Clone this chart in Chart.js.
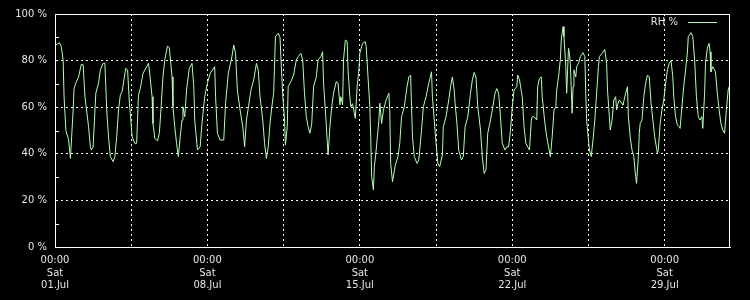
<!DOCTYPE html>
<html>
<head>
<meta charset="utf-8">
<title>RH %</title>
<script src="https://cdn.jsdelivr.net/npm/chart.js@4/dist/chart.umd.min.js"></script>
<style>
  html, body { margin: 0; padding: 0; background: #000; }
  #wrap { width: 750px; height: 300px; position: relative; }
</style>
</head>
<body>
<div id="wrap"><canvas id="rhChart"></canvas></div>
<script>
// hours since 01.Jul 00:00 and relative humidity (%)
const hours = [
  1, 5, 7, 9, 10, 12, 15, 17, 20, 21, 23, 26, 29, 31, 33, 37, 39, 40, 42, 45,
  48, 50, 53, 55, 57, 59, 61, 64, 66, 68, 70, 72, 74, 76, 78, 80, 82, 83, 85, 88,
  90, 92, 94, 97, 101, 103, 104, 107, 108, 110, 113, 115, 117, 119, 121, 124, 126, 129, 130, 132,
  134, 136, 138, 140, 141, 143, 145, 148, 151, 153, 154, 157, 160, 162, 165, 168, 171, 176, 177, 179,
  182, 186, 188, 191, 195, 197, 199, 201, 204, 207, 209, 211, 213, 216, 219, 222, 224, 226, 229, 231,
  233, 235, 237, 239, 241, 243, 246, 248, 250, 251, 253, 254, 256, 257, 260, 263, 266, 268, 271, 273,
  275, 277, 279, 281, 283, 285, 288, 290, 293, 295, 296, 298, 300, 301, 303, 305, 307, 310, 312, 314,
  315, 317, 318, 320, 322, 323, 325, 326, 328, 331, 333, 335, 336, 339, 342, 343, 345, 347, 348, 349,
  351, 352, 354, 357, 358, 360, 362, 365, 368, 369, 370, 372, 375, 378, 380, 382, 385, 388, 390, 392,
  393, 394, 396, 399, 401, 404, 406, 409, 412, 415, 416, 418, 420, 422, 424, 427, 428, 431, 434, 436,
  438, 440, 441, 443, 445, 448, 450, 452, 455, 458, 460, 462, 464, 466, 469, 471, 473, 475, 477, 480,
  482, 485, 487, 489, 491, 493, 496, 498, 500, 502, 504, 506, 509, 510, 512, 515, 517, 519, 521, 523,
  525, 526, 528, 531, 532, 534, 536, 537, 540, 542, 544, 546, 548, 550, 552, 553, 555, 557, 558, 560,
  561, 563, 564, 565, 566, 567, 568, 570, 571, 572, 574, 575, 577, 579, 582, 584, 585, 586, 588, 589,
  591, 593, 595, 597, 599, 600, 603, 606, 608, 609, 611, 612, 614, 616, 618, 619, 620, 622, 625, 626,
  629, 631, 632, 634, 636, 638, 640, 641, 643, 644, 645, 647, 649, 651, 653, 655, 657, 659, 661, 664,
  665, 667, 669, 671, 673, 675, 677, 679, 681, 682, 684, 686, 688, 689, 691, 693, 695, 697, 698, 701,
  703, 705, 707, 709, 711, 713, 714, 716, 717, 719, 721, 722, 723, 725, 728, 730, 732, 734, 736, 738,
  740, 742, 743
];
const rhValues = [
  86.7, 87.7, 86, 80, 64.5, 50, 46, 38, 58.8, 68, 70.4, 73, 78.4, 78.2, 64.5, 51.6, 43, 41.6, 42.9, 66,
  70.3, 76, 78.8, 78.8, 58.8, 47.3, 38.8, 36.6, 38.8, 47.3, 58.8, 65.2, 66.7, 71.7, 76.7, 76, 61.7, 57.4, 47.3, 44.5,
  44.5, 65.2, 68, 74.5, 77.4, 78.8, 76, 64.5, 53, 46.6, 45.6, 48.8, 60.2, 73, 80.3, 86.3, 85.5, 73, 60.2, 51.6,
  44.5, 38.8, 47.3, 54.5, 60.2, 55.9, 67.4, 76.7, 78.8, 68.8, 54.5, 41.6, 43, 53, 64.5, 70.3, 74.5, 77.4, 64.5, 48.8,
  45.9, 45.9, 61.7, 74.5, 81.7, 86.7, 83.2, 67.4, 58.8, 51.6, 43, 54.5, 59.5, 67.4, 71.7, 78.8, 76, 64.5, 54.5, 44.5,
  38, 43, 53, 60.2, 66, 90.3, 91.7, 90, 73, 65.2, 54.5, 43.8, 51.6, 68.8, 71, 73.8, 80.3, 81.7, 83.1, 80.3,
  66, 55.9, 51.6, 48.8, 53, 68.8, 73, 80.3, 81.7, 83.8, 70.3, 58.8, 45.9, 39.5, 51.6, 60.2, 66, 71, 70.3, 61,
  64.5, 61, 80.3, 88.8, 88.3, 76, 64.5, 60.2, 61.5, 55.2, 68.8, 76, 83.2, 87.4, 88.1, 86, 73, 60.2, 47.3, 30.2,
  24.5, 34.5, 41.6, 54.5, 61.7, 53, 58.8, 63.1, 66, 58.8, 35.9, 28, 35, 38.8, 44.5, 55.9, 60.2, 68.8, 73, 73.8,
  60.2, 47.3, 38.8, 35.9, 37.3, 50.2, 60.2, 64.5, 70.3, 75.2, 64.5, 54.5, 44.5, 35.9, 34.5, 39.5, 51.6, 55.9, 63.1, 68.8,
  73, 67.4, 61.7, 53, 41.6, 37.3, 38.8, 51.6, 55.9, 66, 71.7, 74.9, 73, 60.2, 50.2, 38.8, 31.6, 33, 48.8, 54.5,
  58.8, 66, 68, 66, 55.9, 44.5, 41.6, 43, 43, 50, 60, 67.4, 68.8, 73.8, 71.7, 64.5, 51.6, 44.5, 43, 41.6,
  54.5, 55.9, 55.9, 54.5, 68.8, 72.4, 73, 64.5, 53, 47.3, 43, 38.8, 47.3, 58.8, 60.2, 67.4, 73, 80.3, 88.8, 94.6,
  90.3, 77.4, 66, 76, 85.3, 83.2, 78.8, 57.4, 68.8, 76, 73, 77.4, 78.8, 81.7, 83.4, 81.7, 66, 54.5, 45.9, 41.6,
  38.8, 45.9, 54.5, 66, 77.4, 81.7, 83.1, 84.8, 78.8, 67.4, 55.9, 50.2, 54.5, 63.1, 64.5, 58.8, 61, 63.1, 61.5, 60.9,
  66, 68.8, 55.9, 47.3, 41.6, 38.8, 30.2, 27.3, 38.8, 48.8, 53, 54.5, 64.5, 70.3, 73.8, 73, 61.7, 54.5, 47.3, 40.2,
  41.6, 53, 58.8, 63.1, 70.3, 76, 78.8, 80, 73, 64.5, 55.9, 52.4, 51.6, 50.9, 60.2, 68.8, 76, 83.2, 90.3, 92,
  90.3, 80.3, 64.5, 55.9, 54.5, 56, 50.9, 66, 78.8, 85.3, 87.4, 83.8, 75.2, 77.4, 75.2, 66, 58.8, 53, 50.2, 48.8,
  58.8, 67.4, 68.8
];

// axis labelling
const xTickDates = ['01.Jul', '08.Jul', '15.Jul', '22.Jul', '29.Jul'];
const xTickDay = 'Sat';
const xTickTime = '00:00';
const yTicks = [0, 20, 40, 60, 80, 100];
const yMinorTicks = [10, 30, 50, 70, 90];

const points = hours.map((h, i) => ({ x: h, y: rhValues[i] }));

const textColor = '#e6e6e6';
const lineColor = '#b4ffb4';
const fontFamily = '"DejaVu Sans", sans-serif';

// frame, minor y ticks and the gnuplot style key
const framePlugin = {
  id: 'frame',
  afterDraw(chart) {
    const { ctx, chartArea: a, scales } = chart;
    ctx.save();
    ctx.strokeStyle = '#ffffff';
    ctx.lineWidth = 1;
    ctx.setLineDash([]);
    ctx.strokeRect(a.left + 0.5, a.top + 0.5, a.right - a.left - 1, a.bottom - a.top);

    ctx.beginPath();
    yMinorTicks.forEach(v => {
      const y = Math.round(scales.y.getPixelForValue(v)) + 0.5;
      ctx.moveTo(a.left, y);
      ctx.lineTo(a.left + 4, y);
    });
    ctx.stroke();

    // key
    const ds = chart.data.datasets[0];
    ctx.font = '10px ' + fontFamily;
    ctx.fillStyle = textColor;
    ctx.textAlign = 'right';
    ctx.textBaseline = 'middle';
    ctx.fillText(ds.label, a.right - 52, a.top + 8.5);
    ctx.strokeStyle = lineColor;
    ctx.beginPath();
    ctx.moveTo(a.right - 42, a.top + 8.5);
    ctx.lineTo(a.right - 13, a.top + 8.5);
    ctx.stroke();
    ctx.restore();
  }
};

new Chart(document.getElementById('rhChart'), {
  type: 'line',
  data: {
    datasets: [{
      label: 'RH %',
      data: points,
      borderColor: lineColor,
      borderWidth: 1,
      pointRadius: 0,
      tension: 0,
      fill: false
    }]
  },
  options: {
    responsive: true,
    maintainAspectRatio: false,
    animation: false,
    layout: { padding: { top: 14, right: 20, left: 0, bottom: 0 } },
    plugins: {
      legend: { display: false },
      tooltip: { enabled: false }
    },
    scales: {
      x: {
        type: 'linear',
        min: 0,
        max: 744,
        afterFit: s => { s.height = 53; },
        border: { display: true, color: '#ffffff', width: 1, dash: [2, 3] },
        grid: {
          color: '#ffffff',
          lineWidth: 1,
          drawTicks: false
        },
        ticks: {
          stepSize: 84,
          includeBounds: false,
          autoSkip: false,
          maxRotation: 0,
          padding: 7,
          color: textColor,
          font: { family: fontFamily, size: 10, lineHeight: 1.27 },
          callback: v => {
            if (v % 168 !== 0) return '';
            return [xTickTime, xTickDay, xTickDates[v / 168]];
          }
        }
      },
      y: {
        min: 0,
        max: 100,
        afterFit: s => { s.width = 55; },
        afterBuildTicks: s => { s.ticks = yTicks.map(v => ({ value: v })); },
        border: { display: true, color: '#ffffff', width: 1, dash: [2, 3] },
        grid: {
          color: ctx => (ctx.tick && (ctx.tick.value === 0 || ctx.tick.value === 100)) ? 'rgba(0,0,0,0)' : '#ffffff',
          lineWidth: 1,
          drawTicks: false
        },
        ticks: {
          padding: 8,
          color: textColor,
          font: { family: fontFamily, size: 10 },
          callback: v => v + ' %'
        }
      }
    }
  },
  plugins: [framePlugin]
});
</script>
</body>
</html>
